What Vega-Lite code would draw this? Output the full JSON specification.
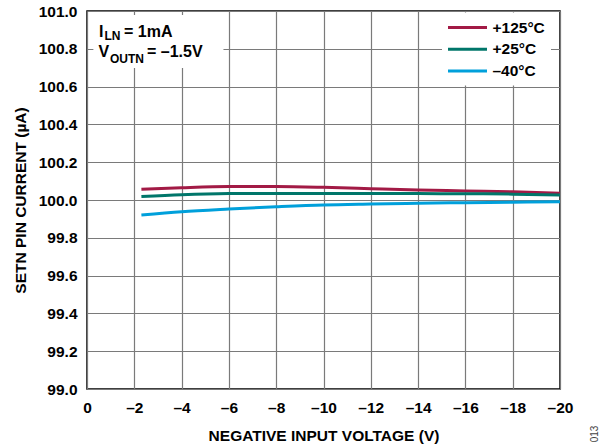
{
  "$schema": "https://vega.github.io/schema/vega-lite/v6.json",
  "width": 473,
  "height": 378,
  "autosize": {"type": "none"},
  "padding": {"left": 87, "top": 11, "right": 50, "bottom": 57},
  "background": "white",
  "config": {
    "view": {"stroke": "#000000", "strokeWidth": 1.5},
    "font": "Liberation Sans",
    "axis": {
      "labelFont": "Liberation Sans",
      "labelFontWeight": "bold",
      "labelFontSize": 15.5,
      "labelColor": "#000000",
      "labelFlush": false,
      "titleFont": "Liberation Sans",
      "titleFontWeight": "bold",
      "titleFontSize": 15.5,
      "titleColor": "#000000",
      "ticks": false,
      "domain": false,
      "grid": true,
      "gridColor": "#7a7a7a",
      "gridWidth": 1.2
    }
  },
  "datasets": {
    "curves": [
      {"v": -2.3, "i": 100.057, "t": "+125°C"},
      {"v": -4, "i": 100.065, "t": "+125°C"},
      {"v": -6, "i": 100.071, "t": "+125°C"},
      {"v": -8, "i": 100.071, "t": "+125°C"},
      {"v": -10, "i": 100.067, "t": "+125°C"},
      {"v": -12, "i": 100.060, "t": "+125°C"},
      {"v": -14, "i": 100.053, "t": "+125°C"},
      {"v": -16, "i": 100.048, "t": "+125°C"},
      {"v": -18, "i": 100.043, "t": "+125°C"},
      {"v": -20, "i": 100.036, "t": "+125°C"},
      {"v": -2.3, "i": 100.018, "t": "+25°C"},
      {"v": -4, "i": 100.028, "t": "+25°C"},
      {"v": -6, "i": 100.034, "t": "+25°C"},
      {"v": -8, "i": 100.035, "t": "+25°C"},
      {"v": -10, "i": 100.035, "t": "+25°C"},
      {"v": -12, "i": 100.035, "t": "+25°C"},
      {"v": -14, "i": 100.034, "t": "+25°C"},
      {"v": -16, "i": 100.033, "t": "+25°C"},
      {"v": -18, "i": 100.031, "t": "+25°C"},
      {"v": -20, "i": 100.027, "t": "+25°C"},
      {"v": -2.3, "i": 99.921, "t": "–40°C"},
      {"v": -4, "i": 99.938, "t": "–40°C"},
      {"v": -6, "i": 99.952, "t": "–40°C"},
      {"v": -8, "i": 99.964, "t": "–40°C"},
      {"v": -10, "i": 99.974, "t": "–40°C"},
      {"v": -12, "i": 99.979, "t": "–40°C"},
      {"v": -14, "i": 99.983, "t": "–40°C"},
      {"v": -16, "i": 99.986, "t": "–40°C"},
      {"v": -18, "i": 99.988, "t": "–40°C"},
      {"v": -20, "i": 99.991, "t": "–40°C"}
    ],
    "mainText": [
      {"txt": "I", "vx": -0.507, "vy": 100.865},
      {"txt": "= 1mA", "vx": -1.565, "vy": 100.865},
      {"txt": "V", "vx": -0.486, "vy": 100.757},
      {"txt": "= –1.5V", "vx": -2.537, "vy": 100.757}
    ],
    "subText": [
      {"txt": "LN", "vx": -0.74, "vy": 100.846},
      {"txt": "OUTN", "vx": -0.97, "vy": 100.725}
    ],
    "figId": [
      {"txt": "013", "vx": -21.48, "vy": 98.762}
    ],
    "box": [
      {"xa": -0.27, "xb": -5.77, "ya": 100.979, "yb": 100.698}
    ]
  },
  "layer": [
    {
      "data": {"name": "box"},
      "mark": {"type": "rect", "fill": "white", "stroke": null},
      "encoding": {
        "x": {
          "field": "xa", "type": "quantitative",
          "scale": {"domain": [0, -20], "nice": false, "zero": false},
          "axis": {
            "values": [0, -2, -4, -6, -8, -10, -12, -14, -16, -18, -20],
            "tickCount": 11,
            "labelOverlap": false,
            "labelExpr": "datum.value == 0 ? '0' : '–' + abs(datum.value)",
            "labelPadding": 11,
            "title": "NEGATIVE INPUT VOLTAGE (V)",
            "titlePadding": 13
          }
        },
        "x2": {"field": "xb"},
        "y": {
          "field": "ya", "type": "quantitative",
          "scale": {"domain": [99, 101], "nice": false, "zero": false},
          "axis": {
            "values": [99, 99.2, 99.4, 99.6, 99.8, 100, 100.2, 100.4, 100.6, 100.8, 101],
            "tickCount": 11,
            "labelOverlap": false,
            "format": ".1f",
            "labelPadding": 10,
            "title": "SETN PIN CURRENT (µA)",
            "titlePadding": 10
          }
        },
        "y2": {"field": "yb"}
      }
    },
    {
      "data": {"name": "curves"},
      "mark": {"type": "line", "strokeWidth": 3, "interpolate": "monotone"},
      "encoding": {
        "x": {"field": "v", "type": "quantitative"},
        "y": {"field": "i", "type": "quantitative"},
        "color": {
          "field": "t", "type": "nominal",
          "scale": {"domain": ["+125°C", "+25°C", "–40°C"], "range": ["#A21A45", "#00766A", "#00A0DB"]},
          "legend": {
            "title": null,
            "orient": "none",
            "legendX": 355,
            "legendY": 1.5,
            "padding": 6,
            "fillColor": "white",
            "strokeColor": null,
            "symbolType": "M-2.6,0H2.6",
            "symbolSize": 225,
            "symbolStrokeWidth": 3,
            "symbolOffset": 10.5,
            "labelOffset": 16,
            "rowPadding": 3.7,
            "labelFont": "Liberation Sans",
            "labelFontWeight": "bold",
            "labelFontSize": 15.5,
            "labelColor": "#000000"
          }
        }
      }
    },
    {
      "data": {"name": "mainText"},
      "mark": {"type": "text", "align": "left", "baseline": "alphabetic", "font": "Liberation Sans", "fontWeight": "bold", "fontSize": 16, "color": "#000000"},
      "encoding": {
        "x": {"field": "vx", "type": "quantitative"},
        "y": {"field": "vy", "type": "quantitative"},
        "text": {"field": "txt"}
      }
    },
    {
      "data": {"name": "subText"},
      "mark": {"type": "text", "align": "left", "baseline": "alphabetic", "font": "Liberation Sans", "fontWeight": "bold", "fontSize": 12, "color": "#000000"},
      "encoding": {
        "x": {"field": "vx", "type": "quantitative"},
        "y": {"field": "vy", "type": "quantitative"},
        "text": {"field": "txt"}
      }
    },
    {
      "data": {"name": "figId"},
      "mark": {"type": "text", "align": "center", "baseline": "middle", "angle": 270, "font": "Liberation Sans", "fontSize": 10, "color": "#444444"},
      "encoding": {
        "x": {"field": "vx", "type": "quantitative"},
        "y": {"field": "vy", "type": "quantitative"},
        "text": {"field": "txt"}
      }
    }
  ]
}
